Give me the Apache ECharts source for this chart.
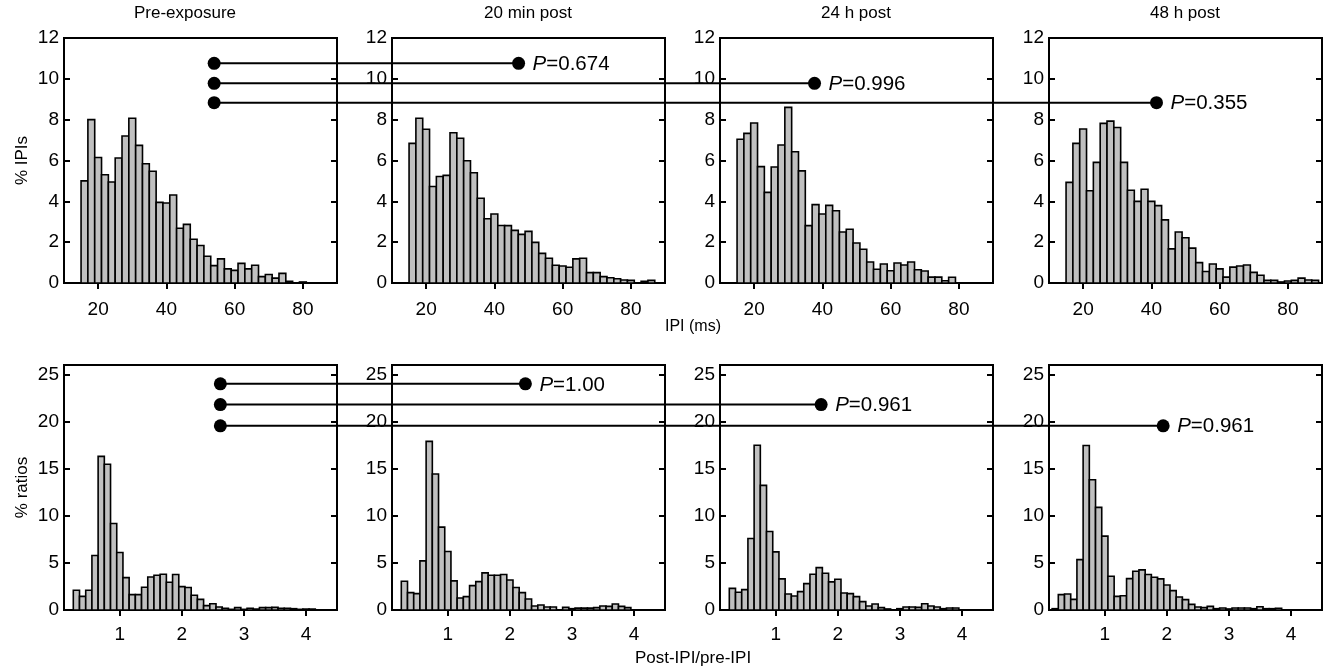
<!DOCTYPE html>
<html>
<head>
<meta charset="utf-8">
<script src="https://cdn.jsdelivr.net/npm/echarts@6/dist/echarts.min.js"></script>
<style>
  html, body { margin: 0; padding: 0; background: #fff; }
  #chart { width: 1326px; height: 672px; }
</style>
</head>
<body>
<div id="chart"></div>
<script>
// Condition names (one column each)
const conditions = ['Pre-exposure', '20 min post', '24 h post', '48 h post'];

// IPI histograms: 2 ms bins, first bin 15-17 ms, values in % of IPIs
const ipiBinStart = 15;
const ipiBinWidth = 2;
const ipiPre = [5.0, 8.0, 6.15, 5.3, 4.95, 6.12, 7.2, 8.07, 6.74, 5.84, 5.47, 3.95, 3.92, 4.31, 2.68, 2.87, 2.14, 1.84, 1.31, 0.85, 1.18, 0.69, 0.62, 0.96, 0.69, 0.87, 0.31, 0.42, 0.24, 0.47, 0.08, 0, 0.05];
const ipi20min = [6.84, 8.07, 7.53, 4.73, 5.22, 5.27, 7.36, 7.09, 5.99, 5.40, 4.15, 3.15, 3.38, 2.82, 2.81, 2.58, 2.38, 2.53, 1.99, 1.45, 1.21, 0.87, 0.83, 0.77, 1.18, 1.21, 0.51, 0.51, 0.31, 0.26, 0.21, 0.15, 0.13, 0, 0.08, 0.13];
const ipi24h = [7.04, 7.33, 7.84, 5.70, 4.44, 5.68, 6.76, 8.60, 6.43, 5.49, 2.81, 3.84, 3.38, 3.80, 3.54, 2.50, 2.63, 1.96, 1.65, 1.03, 0.67, 0.93, 0.60, 0.98, 0.88, 1.03, 0.65, 0.59, 0.29, 0.29, 0.11, 0.28];
const ipi48h = [4.93, 6.84, 7.54, 4.52, 5.91, 7.82, 7.93, 7.62, 5.91, 4.54, 4.00, 4.59, 4.00, 3.79, 3.09, 1.67, 2.50, 2.22, 1.71, 1.00, 0.56, 0.93, 0.69, 0.29, 0.78, 0.83, 0.88, 0.52, 0.38, 0.13, 0.13, 0.05, 0.10, 0.13, 0.24, 0.15, 0.13];

// Post-IPI/pre-IPI ratio histograms: bins 0.1 wide, listed from the first bin centre
const ratioBinWidth = 0.1;
const ratioFirstCentre = [0.3, 0.3, 0.3, 0.2];
const ratioPre = [2.09, 1.45, 2.09, 5.78, 16.3, 15.46, 9.18, 6.10, 3.44, 1.63, 1.63, 2.41, 3.51, 3.69, 3.79, 2.94, 3.76, 2.48, 2.38, 1.56, 1.13, 0.46, 0.67, 0.32, 0.18, 0.07, 0.25, 0.07, 0.18, 0.10, 0.25, 0.25, 0.28, 0.18, 0.18, 0.14, 0.07, 0.10, 0.10];
const ratio20min = [3.05, 1.84, 1.74, 5.21, 17.9, 14.43, 8.79, 6.21, 3.09, 1.28, 1.42, 2.59, 3.01, 3.94, 3.69, 3.69, 3.76, 3.19, 2.38, 1.84, 1.17, 0.43, 0.53, 0.32, 0.32, 0, 0.28, 0.14, 0.20, 0.20, 0.20, 0.25, 0.43, 0.39, 0.64, 0.39, 0.25];
const ratio24h = [2.30, 1.88, 2.16, 7.59, 17.48, 13.23, 8.33, 6.17, 3.30, 1.70, 1.49, 1.95, 2.80, 3.79, 4.50, 3.90, 2.98, 3.26, 1.81, 1.74, 1.42, 0.89, 0.43, 0.64, 0.25, 0.11, 0, 0.14, 0.32, 0.32, 0.28, 0.67, 0.43, 0.32, 0.14, 0.21, 0.21];
const ratio48h = [0.14, 1.63, 1.70, 1.13, 5.35, 17.45, 13.83, 10.89, 7.84, 3.58, 1.45, 1.52, 3.33, 4.11, 4.26, 3.76, 3.48, 3.30, 2.66, 2.06, 1.38, 1.10, 0.60, 0.32, 0.25, 0.39, 0.14, 0.21, 0.11, 0.21, 0.21, 0.21, 0.14, 0.35, 0.14, 0.14, 0.18];

// Axis ranges and tick labels
const ipiRange = [10, 90];
const ipiTicks = [20, 40, 60, 80];
const ipiYRange = [0, 12];
const ipiYTicks = [0, 2, 4, 6, 8, 10, 12];
const ratioRange = [0.1, 4.5];
const ratioTicks = [1, 2, 3, 4];
const ratioYRange = [0, 26];
const ratioYTicks = [0, 5, 10, 15, 20, 25];

// Pairwise comparisons against pre-exposure (start in column 0, end in columns 1..3)
const ipiCompareY = [10.76, 9.78, 8.83];
const ipiCompareStartX = 54;
const ipiCompareEndX = [47.1, 37.7, 41.5];
const ipiCompareP = ['0.674', '0.996', '0.355'];
const ratioCompareY = [24.0, 21.8, 19.55];
const ratioCompareStartX = 2.62;
const ratioCompareEndX = [2.25, 1.73, 1.94];
const ratioCompareP = ['1.00', '0.961', '0.961'];

const FONT = '"Liberation Sans", Arial, Helvetica, sans-serif';
const colLeft = [64, 392, 720, 1049];
const colWidth = 273;
const rowTop = [38, 365];
const rowHeight = 245;
const titleX = [185, 528, 856, 1185];

const ipiSets = [ipiPre, ipi20min, ipi24h, ipi48h];
const ratioSets = [ratioPre, ratio20min, ratio24h, ratio48h];

function ipiBins(values) {
  return values.map((v, i) => [ipiBinStart + i * ipiBinWidth, ipiBinStart + (i + 1) * ipiBinWidth, v]);
}
function ratioBins(values, firstCentre) {
  return values.map((v, i) => {
    const c = firstCentre + i * ratioBinWidth;
    return [+(c - ratioBinWidth / 2).toFixed(3), +(c + ratioBinWidth / 2).toFixed(3), v];
  });
}

function renderBin(params, api) {
  const h = api.value(2);
  if (!h) return null;
  const topLeft = api.coord([api.value(0), h]);
  const botRight = api.coord([api.value(1), 0]);
  return {
    type: 'rect',
    shape: { x: topLeft[0], y: topLeft[1], width: botRight[0] - topLeft[0], height: botRight[1] - topLeft[1] },
    style: { fill: '#c0c0c0', stroke: '#000', lineWidth: 1.6 }
  };
}

const grids = [], xAxes = [], yAxes = [], series = [];
for (let row = 0; row < 2; row++) {
  for (let col = 0; col < 4; col++) {
    const g = row * 4 + col;
    grids.push({
      left: colLeft[col], top: rowTop[row], width: colWidth, height: rowHeight,
      show: true, borderColor: '#000', borderWidth: 2, backgroundColor: 'transparent'
    });
    const xr = row === 0 ? ipiRange : ratioRange;
    const xt = row === 0 ? ipiTicks : ratioTicks;
    const yr = row === 0 ? ipiYRange : ratioYRange;
    const yt = row === 0 ? ipiYTicks : ratioYTicks;
    xAxes.push({
      type: 'value', gridIndex: g, min: xr[0], max: xr[1],
      axisLine: { show: true, onZero: false, lineStyle: { color: '#000', width: 2 } },
      axisTick: { show: true, inside: false, length: 6, lineStyle: { color: '#000', width: 2 }, customValues: xt },
      axisLabel: { show: true, margin: row === 0 ? 17 : 15, color: '#000', fontSize: 19, fontFamily: FONT, customValues: xt },
      splitLine: { show: false }
    });
    // left axis with labels, ticks pointing in
    yAxes.push({
      type: 'value', gridIndex: g, min: yr[0], max: yr[1], position: 'left',
      axisLine: { show: true, lineStyle: { color: '#000', width: 2 } },
      axisTick: { show: true, inside: true, length: 6, lineStyle: { color: '#000', width: 2 }, customValues: yt },
      axisLabel: { show: true, margin: 5, color: '#000', fontSize: 19, fontFamily: FONT, customValues: yt },
      splitLine: { show: false }
    });
    // right axis: mirrored inward ticks only
    yAxes.push({
      type: 'value', gridIndex: g, min: yr[0], max: yr[1], position: 'right',
      axisLine: { show: true, lineStyle: { color: '#000', width: 2 } },
      axisTick: { show: true, inside: true, length: 6, lineStyle: { color: '#000', width: 2 }, customValues: yt },
      axisLabel: { show: false },
      splitLine: { show: false }
    });
    const data = row === 0 ? ipiBins(ipiSets[col]) : ratioBins(ratioSets[col], ratioFirstCentre[col]);
    series.push({
      type: 'custom', xAxisIndex: g, yAxisIndex: g * 2,
      renderItem: renderBin, encode: { x: [0, 1], y: 2 },
      data: data, silent: true, clip: false, z: 2
    });
  }
}

const textStyle = (size) => ({ fill: '#000', fontSize: size, fontFamily: FONT });
const graphics = [];
conditions.forEach((name, col) => {
  graphics.push({
    type: 'text', x: titleX[col], y: 13,
    style: Object.assign({ text: name, textAlign: 'center', textVerticalAlign: 'middle' }, textStyle(17))
  });
});
graphics.push({ type: 'text', x: 693, y: 327, style: Object.assign({ text: 'IPI (ms)', textAlign: 'center', textVerticalAlign: 'middle' }, textStyle(16)) });
graphics.push({ type: 'text', x: 693, y: 658, style: Object.assign({ text: 'Post-IPI/pre-IPI', textAlign: 'center', textVerticalAlign: 'middle' }, textStyle(17)) });
graphics.push({ type: 'text', x: 22, y: rowTop[0] + rowHeight / 2, rotation: Math.PI / 2, style: Object.assign({ text: '% IPIs', textAlign: 'center', textVerticalAlign: 'middle' }, textStyle(17)) });
graphics.push({ type: 'text', x: 22, y: rowTop[1] + rowHeight / 2, rotation: Math.PI / 2, style: Object.assign({ text: '% ratios', textAlign: 'center', textVerticalAlign: 'middle' }, textStyle(17)) });

const chart = echarts.init(document.getElementById('chart'), null, { renderer: 'canvas' });
chart.setOption({
  animation: false,
  backgroundColor: '#fff',
  grid: grids, xAxis: xAxes, yAxis: yAxes, series: series,
  graphic: graphics
});

// Comparison brackets: dot in the pre-exposure panel joined to a dot in each later panel
function addComparisons(row, ys, startX, endXs, pValues) {
  ys.forEach((y, k) => {
    const g0 = row * 4;
    const g1 = row * 4 + k + 1;
    const a = chart.convertToPixel({ xAxisIndex: g0, yAxisIndex: g0 * 2 }, [startX, y]);
    const b = chart.convertToPixel({ xAxisIndex: g1, yAxisIndex: g1 * 2 }, [endXs[k], y]);
    graphics.push({ type: 'line', z: 100, shape: { x1: a[0], y1: a[1], x2: b[0], y2: a[1] }, style: { stroke: '#000', lineWidth: 2 } });
    graphics.push({ type: 'circle', z: 101, shape: { cx: a[0], cy: a[1], r: 6.5 }, style: { fill: '#000' } });
    graphics.push({ type: 'circle', z: 101, shape: { cx: b[0], cy: a[1], r: 6.5 }, style: { fill: '#000' } });
    graphics.push({
      type: 'text', z: 101, x: b[0] + 14, y: a[1] + 1,
      style: {
        text: '{i|P}=' + pValues[k], textVerticalAlign: 'middle', fill: '#000',
        fontSize: 20.5, fontFamily: FONT,
        rich: { i: { fontStyle: 'italic', fontSize: 20.5, fontFamily: FONT, fill: '#000' } }
      }
    });
  });
}
addComparisons(0, ipiCompareY, ipiCompareStartX, ipiCompareEndX, ipiCompareP);
addComparisons(1, ratioCompareY, ratioCompareStartX, ratioCompareEndX, ratioCompareP);
chart.setOption({ graphic: graphics });
</script>
</body>
</html>
